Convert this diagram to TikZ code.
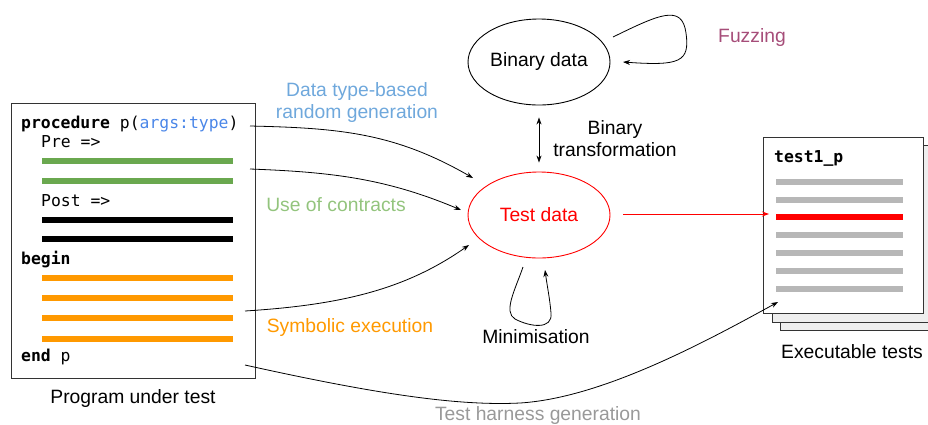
\documentclass[tikz,border=0pt]{standalone}
\usepackage{fontspec}
\setmainfont{Liberation Sans}
\setmonofont{DejaVu Sans Mono}
\usetikzlibrary{shapes.geometric,arrows.meta}

\definecolor{typeblue}{HTML}{4A86E8}
\definecolor{lblblue}{HTML}{6FA8DC}
\definecolor{lblgreen}{HTML}{93C47D}
\definecolor{bargreen}{HTML}{6AA84F}
\definecolor{lblorange}{HTML}{FF9900}
\definecolor{lblgray}{HTML}{999999}
\definecolor{lblpurple}{HTML}{A64D79}
\definecolor{bargray}{HTML}{B7B7B7}
\definecolor{pagegray}{HTML}{EEEEEE}

\tikzset{
  lbl/.style={font=\fontsize{19.3}{22}\selectfont, inner sep=0pt, align=center},
  code/.style={font=\fontsize{16.4}{19}\selectfont\ttfamily, inner sep=0pt, anchor=base west},
  bar/.style={line width=6pt},
  conn/.style={line width=0.8pt, -{Stealth[length=7pt,width=5pt]}},
  page/.style={draw=black!80, line width=1pt},
}

\begin{document}
\begin{tikzpicture}[x=1pt,y=-1pt]
\useasboundingbox (0,0) rectangle (928,424);
\clip (0,0) rectangle (928,424);

% program under test
\node[draw=black!80, line width=1pt, minimum width=244pt, minimum height=275pt,
      inner sep=0pt, anchor=north west] (prog) at (11,103) {};
\node[code] (l1) at (21,128) {\textbf{procedure} p(\textcolor{typeblue}{args:type})};
\node[code] (l2) at (41,147) {Pre =>};
\node[code] (l3) at (41,206) {Post =>};
\node[code] (l4) at (21,264) {\textbf{begin}};
\node[code] (l5) at (21,361) {\textbf{end} p};
\foreach \y in {161,181} \draw[bar, bargreen] (42,\y) -- (233,\y);
\foreach \y in {220,239} \draw[bar, black] (42,\y) -- (233,\y);
\foreach \y in {278,298,318,339} \draw[bar, lblorange] (42,\y) -- (233,\y);
\node[lbl] (progcap) at (133,398) {Program under test};

% data nodes
\node[ellipse, draw, line width=0.9pt, minimum width=142pt, minimum height=86pt,
      inner sep=0pt, lbl] (bin) at (539,62) {Binary data};
\node[ellipse, draw=red, line width=0.9pt, minimum width=142pt, minimum height=86pt,
      inner sep=0pt, lbl, text=red] (td) at (539,215) {Test data};

% stack of executable tests
\draw[page, fill=pagegray] (780,153) rectangle (950,330);
\draw[page, fill=pagegray] (772,145) rectangle (942,322);
\node[page, fill=white, minimum width=160pt, minimum height=176pt, inner sep=0pt,
      anchor=north west] (doc) at (763,137) {};
\node[code, font=\fontsize{16.4}{19}\selectfont\ttfamily\bfseries] (tname) at (774,162) {test1\_p};
\foreach \y in {181.5,199.5,235,253,271,289} \draw[bar, bargray] (776,\y) -- (903,\y);
\draw[bar, red] (776,217) -- (903,217);
\node[lbl] (doccap) at (852,352) {Executable tests};

% labels
\node[lbl, text=lblblue] (ldt) at (357,103) {Data type-based\\random generation};
\node[lbl, text=lblgreen] (luc) at (336,205) {Use of contracts};
\node[lbl, text=lblorange] (lse) at (350,328) {Symbolic execution};
\node[lbl] (lbt) at (615,139) {Binary\\transformation};
\node[lbl] (lmin) at (536,337) {Minimisation};
\node[lbl, text=lblpurple] (lfz) at (752,38) {Fuzzing};
\node[lbl, text=lblgray] (lth) at (538,415) {Test harness generation};

% connector end points
\coordinate (s1) at (250,126);
\coordinate (s2) at (250,169);
\coordinate (s3) at (245,311);
\coordinate (s4) at (245,365);
\coordinate (e1) at (473,178);
\coordinate (e2) at (461,210);
\coordinate (e3) at (469,245);
\coordinate (e4) at (778,302);
\coordinate (fz0) at (613,37);
\coordinate (fz1) at (623,62);
\coordinate (mn0) at (523,267);
\coordinate (mn1) at (545,270);
\coordinate (rd0) at (623,214);
\coordinate (rd1) at (769,214);

% connectors
\draw[conn] (s1) .. controls (340,128) and (395,133) .. (e1);
\draw[conn] (s2) .. controls (330,172) and (385,178) .. (e2);
\draw[conn] (s3) .. controls (340,305) and (405,290) .. (e3);
\draw[conn] (s4) .. controls (380,395) and (460,406) .. (520,403)
                 .. controls (600,398) and (700,345) .. (e4);
\draw[conn, {Stealth[length=7pt,width=5pt]}-{Stealth[length=7pt,width=5pt]}]
  ([yshift=-12pt]bin.south) -- ([yshift=9pt]td.north);
\draw[conn] (fz0) .. controls (660,14) and (682,4) .. (686,33)
                  .. controls (690,62) and (680,66) .. (fz1);
\draw[conn] (mn0) .. controls (515,290) and (503,312) .. (515,319)
                  .. controls (530,327) and (553,330) .. (551,313)
                  .. controls (550,300) and (547,285) .. (mn1);
\draw[conn, red] (rd0) -- (rd1);
\end{tikzpicture}
\end{document}
